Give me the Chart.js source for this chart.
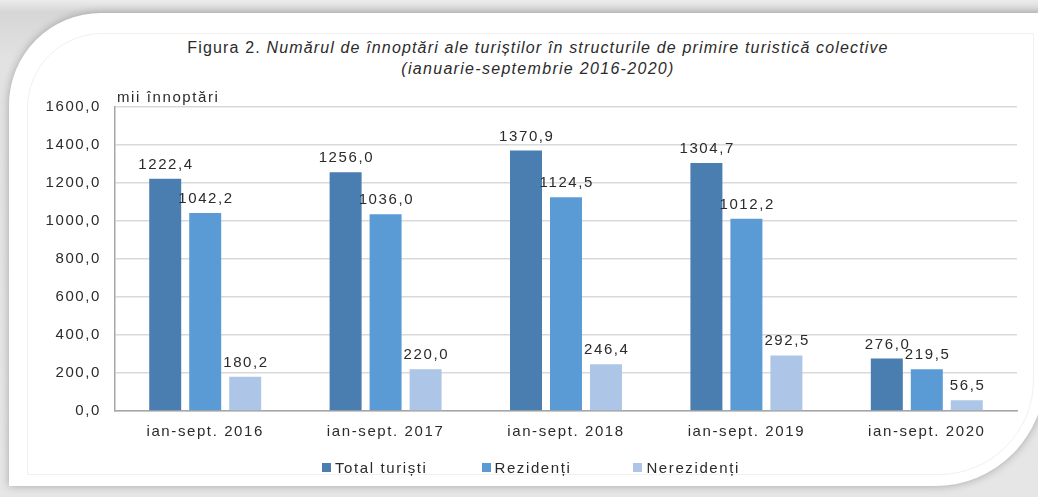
<!DOCTYPE html>
<html>
<head>
<meta charset="utf-8">
<script src="https://cdn.jsdelivr.net/npm/chart.js@4.4.1/dist/chart.umd.min.js"></script>
<style>
  html, body { margin: 0; padding: 0; }
  body { width: 1038px; height: 497px; overflow: hidden; position: relative;
         background: linear-gradient(#ececec, #d6d6d6 12px, #e2e2e2 60px, #e6e6e6); font-family: "Liberation Sans", Arial, sans-serif; }
  .card { position: absolute; left: 9px; top: 13px; width: 1036px; height: 473px; background: #fff;
          border-top-left-radius: 92px; border-bottom-right-radius: 110px; box-shadow: 0 0 9px rgba(0,0,0,0.28); }
  .inner { position: absolute; left: 18px; top: 20px; width: 1005px; height: 440px;
           border-top-left-radius: 75px; border-bottom-right-radius: 95px; border: 1px solid #f0f0f0; }
  .title { position: absolute; left: 0; width: 1076px; top: 37px; text-align: center; color: #2b2b2b;
           font-size: 16px; line-height: 21px; letter-spacing: 1.15px; font-family: "Liberation Sans", Arial, sans-serif; }
  .title i { font-style: italic; }
  .title .l2 { letter-spacing: 1.3px; }
  #wrap { position: absolute; left: 0; top: 0; width: 1038px; height: 497px; }
  .legend { position: absolute; left: 322px; top: 459px; display: flex; font-size: 15px; letter-spacing: 1.6px; color: #2b2b2b; }
  .legend .item { display: flex; align-items: center; }
  .legend .box { width: 9px; height: 9px; margin-right: 4px; }
</style>
</head>
<body>
<div class="card"><div class="inner"></div></div>
<div class="title">Figura 2. <i>Numărul de înnoptări ale turiștilor în structurile de primire turistică colective</i><br><i class="l2">(ianuarie-septembrie 2016-2020)</i></div>
<div id="wrap"><canvas id="c" width="1038" height="497"></canvas></div>
<div class="legend" id="legend"></div>
<script>
const categories = ["ian-sept. 2016", "ian-sept. 2017", "ian-sept. 2018", "ian-sept. 2019", "ian-sept. 2020"];
const seriesNames = ["Total turiști", "Rezidenți", "Nerezidenți"];
const totalTuristi = [1222.4, 1256.0, 1370.9, 1304.7, 276.0];
const rezidenti = [1042.2, 1036.0, 1124.5, 1012.2, 219.5];
const nerezidenti = [180.2, 220.0, 246.4, 292.5, 56.5];
const seriesColors = ["#4a7db0", "#5b9bd5", "#adc6e7"];
const yTicks = [0, 200, 400, 600, 800, 1000, 1200, 1400, 1600];
const axisTitle = "mii înnoptări";

const fmt = v => v.toFixed(1).replace('.', ',');
const TEXT = '#2b2b2b';
const SPACING = '1.6px';
const FONT = '"Liberation Sans", Arial, sans-serif';

const spacingPlugin = {
  id: 'spacing',
  beforeUpdate(chart) { chart.ctx.letterSpacing = SPACING; },
  beforeDraw(chart) { chart.ctx.letterSpacing = SPACING; }
};

const labelsPlugin = {
  id: 'valueLabels',
  afterDatasetsDraw(chart) {
    const ctx = chart.ctx;
    ctx.save();
    ctx.letterSpacing = SPACING;
    ctx.font = '15px ' + FONT;
    ctx.fillStyle = TEXT;
    ctx.textAlign = 'center';
    ctx.textBaseline = 'alphabetic';
    chart.data.datasets.forEach((ds, di) => {
      const meta = chart.getDatasetMeta(di);
      meta.data.forEach((bar, i) => {
        ctx.fillText(fmt(ds.data[i]), bar.x + 0.8, bar.y - 10);
      });
    });
    ctx.textAlign = 'left';
    ctx.letterSpacing = '1.6px';
    ctx.fillText(axisTitle, chart.chartArea.left + 2, chart.chartArea.top - 5);
    ctx.restore();
  }
};

const chart = new Chart(document.getElementById('c'), {
  type: 'bar',
  data: {
    labels: categories,
    datasets: [
      { label: seriesNames[0], data: totalTuristi, backgroundColor: seriesColors[0] },
      { label: seriesNames[1], data: rezidenti, backgroundColor: seriesColors[1] },
      { label: seriesNames[2], data: nerezidenti, backgroundColor: seriesColors[2] }
    ]
  },
  options: {
    responsive: false,
    animation: false,
    devicePixelRatio: 1,
    layout: { padding: { left: 0, top: 107, right: 21, bottom: 46 } },
    datasets: { bar: { categoryPercentage: 0.665, barPercentage: 0.8 } },
    plugins: { legend: { display: false }, tooltip: { enabled: false }, title: { display: false } },
    scales: {
      x: {
        grid: { display: false, drawTicks: false },
        border: { display: true, color: '#a6a6a6', width: 1.5 },
        ticks: { color: TEXT, font: { size: 15, family: FONT }, padding: 12, maxRotation: 0 },
        afterFit(s) { s.height = 40; }
      },
      y: {
        min: 0, max: 1600,
        afterBuildTicks(s) { s.ticks = yTicks.map(v => ({ value: v })); },
        grid: { color: '#d9d9d9', lineWidth: 1.5, drawTicks: false },
        border: { display: true, color: '#a6a6a6', width: 1.5 },
        ticks: { color: TEXT, font: { size: 15, family: FONT }, padding: 14,
                 callback: v => fmt(v) },
        afterFit(s) { s.width = 115; }
      }
    }
  },
  plugins: [spacingPlugin, labelsPlugin]
});

const legendGaps = [54, 62, 0];
const lg = document.getElementById('legend');
seriesNames.forEach((n, i) => {
  const it = document.createElement('div'); it.className = 'item';
  it.style.marginRight = legendGaps[i] + 'px';
  const b = document.createElement('span'); b.className = 'box'; b.style.background = seriesColors[i];
  const t = document.createElement('span'); t.textContent = n;
  it.appendChild(b); it.appendChild(t); lg.appendChild(it);
});
</script>
</body>
</html>
